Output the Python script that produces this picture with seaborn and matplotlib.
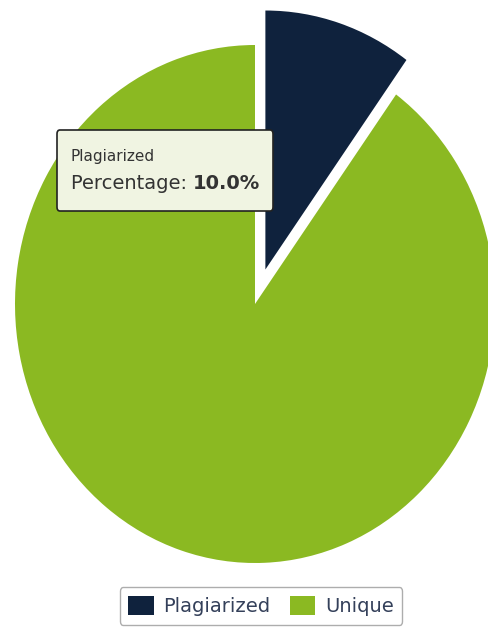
import matplotlib
matplotlib.use("Agg")
import matplotlib.pyplot as plt
import seaborn as sns
from matplotlib.patches import FancyBboxPatch

sns.set_theme(style="white")
plt.rcParams['font.family'] = ['DejaVu Sans']

categories = ["Plagiarized", "Unique"]
values = [10.0, 90.0]
colors = ["#0f223d", "#8bb922"]
explode = [0.14, 0.0]

W, H = 488, 631
fig = plt.figure(figsize=(W / 100, H / 100), dpi=100)
cx, cy, rx, ry = 255, 304, 240, 259
ax = fig.add_axes([(cx - rx) / W, 1 - (cy + ry) / H, 2 * rx / W, 2 * ry / H])
wedges, _ = ax.pie(values, colors=colors, explode=explode, startangle=90,
                   counterclock=False, wedgeprops=dict(linewidth=0))
for w in wedges:
    w.set_clip_on(False)
ax.set_aspect('auto')
ax.set_xlim(-1, 1)
ax.set_ylim(-1, 1)
ax.axis('off')

# tooltip
x0, x1, y0, y1 = 57, 273, 130, 211
tip = FancyBboxPatch(((x0) / W, 1 - y1 / H), (x1 - x0) / W, (y1 - y0) / H,
                     boxstyle="round,pad=0,rounding_size=0.006",
                     transform=fig.transFigure, facecolor="#f0f4e2",
                     edgecolor="#222222", linewidth=1.2, zorder=5)
fig.add_artist(tip)
fig.text(71 / W, 1 - 157 / H, categories[0], fontsize=11, color="#333333",
         va="center", ha="left", zorder=6)
t = fig.text(71 / W, 1 - 184 / H, "Percentage: ", fontsize=14, color="#333333",
             va="center", ha="left", zorder=6)
fig.canvas.draw()
bb = t.get_window_extent()
fig.text(bb.x1 / W, 1 - 184 / H, f"{values[0]:.1f}%", fontsize=14,
         fontweight="bold", color="#333333", va="center", ha="left", zorder=6)

leg = fig.legend(wedges, categories, loc="center", bbox_to_anchor=(261 / W, 1 - 606 / H),
                 ncol=2, frameon=True, fancybox=True, edgecolor="#999999",
                 fontsize=14, handlelength=1.3, handleheight=1.1, handletextpad=0.5,
                 columnspacing=1.0, borderpad=0.45, borderaxespad=0)
for txt in leg.get_texts():
    txt.set_color("#34405a")

fig.savefig("out.png", dpi=100)
